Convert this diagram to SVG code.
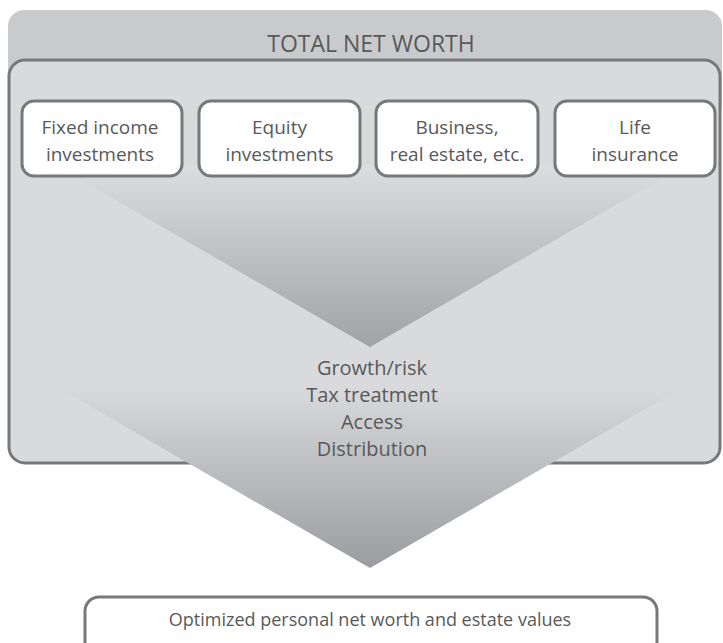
<svg xmlns="http://www.w3.org/2000/svg" width="723" height="643" viewBox="0 0 723 643">
  <style>
    .lbl { font-family: "Open Sans", "Noto Sans", "DejaVu Sans", sans-serif; fill: #58595b; text-anchor: middle; }
    .box { fill: #ffffff; stroke: #77787a; stroke-width: 3; }
    .small { font-size: 19px; }
    .mid { font-size: 20px; }
  </style>
  <defs>
    <linearGradient id="vgrad1" x1="0" y1="0" x2="0" y2="1">
      <stop offset="0" stop-color="#dcdddf"/>
      <stop offset="1" stop-color="#a1a2a5"/>
    </linearGradient>
    <linearGradient id="vgrad2" x1="0" y1="0" x2="0" y2="1">
      <stop offset="0" stop-color="#d9dadc"/>
      <stop offset="1" stop-color="#9b9c9f"/>
    </linearGradient>
  </defs>

  <g id="total-net-worth">
    <rect x="8" y="10" width="714" height="110" rx="16" fill="#c9cacc"/>
    <text class="lbl" x="371" y="52" font-size="23">TOTAL NET WORTH</text>
    <rect x="9" y="60" width="711" height="403" rx="16" fill="#d9dadc" stroke="#77787a" stroke-width="3"/>
  </g>

  <g id="connectors">
    <polygon points="55,165 685,165 370,347" fill="url(#vgrad1)"/>
    <polygon points="55,386 685,386 370,568" fill="url(#vgrad2)"/>
  </g>

  <g id="fixed-income">
    <rect class="box" x="22" y="101" width="160" height="75" rx="12"/>
    <text class="lbl small" x="100" y="134">Fixed income</text>
    <text class="lbl small" x="100" y="161">investments</text>
  </g>
  <g id="equity">
    <rect class="box" x="199" y="101" width="161" height="75" rx="12"/>
    <text class="lbl small" x="279.5" y="134">Equity</text>
    <text class="lbl small" x="279.5" y="161">investments</text>
  </g>
  <g id="business">
    <rect class="box" x="376" y="101" width="162" height="75" rx="12"/>
    <text class="lbl small" x="457" y="134">Business,</text>
    <text class="lbl small" x="457" y="161">real estate, etc.</text>
  </g>
  <g id="life-insurance">
    <rect class="box" x="555" y="101" width="160" height="75" rx="12"/>
    <text class="lbl small" x="635" y="134">Life</text>
    <text class="lbl small" x="635" y="161">insurance</text>
  </g>

  <g id="criteria">
    <text class="lbl mid" x="372" y="375">Growth/risk</text>
    <text class="lbl mid" x="372" y="402">Tax treatment</text>
    <text class="lbl mid" x="372" y="429">Access</text>
    <text class="lbl mid" x="372" y="456">Distribution</text>
  </g>

  <g id="optimized">
    <rect class="box" x="85" y="597" width="572" height="80" rx="14"/>
    <text class="lbl" x="370" y="626" font-size="18">Optimized personal net worth and estate values</text>
  </g>
</svg>
